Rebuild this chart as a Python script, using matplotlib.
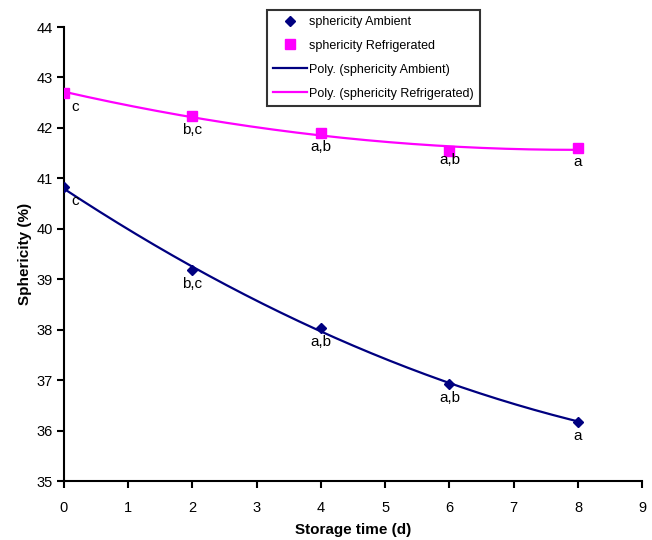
import matplotlib
matplotlib.use('Agg')
import matplotlib.pyplot as plt
import numpy as np

plt.rcParams['font.family'] = ['Liberation Sans', 'DejaVu Sans']

# Data
days = [0, 2, 4, 6, 8]
ambient = [40.82, 39.18, 38.03, 36.93, 36.18]
refrig = [42.70, 42.23, 41.90, 41.55, 41.60]
amb_letters = ['c', 'b,c', 'a,b', 'a,b', 'a']
ref_letters = ['c', 'b,c', 'a,b', 'a,b', 'a']

fig = plt.figure(figsize=(6.52, 5.40), dpi=100)
ax = fig.add_axes([0.098, 0.109, 0.887, 0.841])

# 2nd order polynomial trendlines
xs = np.linspace(0, 8, 200)
p_amb = np.polyfit(days, ambient, 2)
p_ref = np.polyfit(days, refrig, 2)

ax.plot(days, ambient, linestyle='none', marker='D', color='#000080', markersize=5.5,
        label='sphericity Ambient', zorder=3)
ax.plot(days, refrig, linestyle='none', marker='s', color='#FF00FF', markersize=7,
        label='sphericity Refrigerated', zorder=3)
ax.plot(xs, np.polyval(p_amb, xs), color='#000080', linewidth=1.6,
        label='Poly. (sphericity Ambient)')
ax.plot(xs, np.polyval(p_ref, xs), color='#FF00FF', linewidth=1.6,
        label='Poly. (sphericity Refrigerated)')

# significance letters
for i, (x, y) in enumerate(zip(days, ambient)):
    dx = 8 if i == 0 else 0
    ax.annotate(amb_letters[i], (x, y), xytext=(dx, -5), textcoords='offset points',
                ha='center', va='top', fontsize=11)
for i, (x, y) in enumerate(zip(days, refrig)):
    dx = 8 if i == 0 else 0
    dy = -2 if i == 3 else -5
    ax.annotate(ref_letters[i], (x, y), xytext=(dx, dy), textcoords='offset points',
                ha='center', va='top', fontsize=11)

ax.set_xlim(0, 9)
ax.set_ylim(35, 44)
ax.set_xticks(range(0, 10))
ax.set_yticks(range(35, 45))
ax.spines['top'].set_visible(False)
ax.spines['right'].set_visible(False)
ax.spines['left'].set_linewidth(1.5)
ax.spines['bottom'].set_linewidth(1.5)
ax.tick_params(direction='out', length=5, width=1.5, labelsize=10.5)
ax.tick_params(axis='x', pad=9)
ax.tick_params(axis='y', pad=3)
ax.set_xlabel('Storage time (d)', fontsize=11, fontweight='bold', labelpad=6)
ax.set_ylabel('Sphericity (%)', fontsize=11, fontweight='bold', labelpad=3)

leg = ax.legend(loc='upper left', bbox_to_anchor=(0.34, 1.052), fontsize=9,
                frameon=True, fancybox=False, edgecolor='black', handlelength=2.7,
                handletextpad=0.2, borderpad=0.5, labelspacing=0.95)
leg.get_frame().set_linewidth(1.5)

fig.savefig('out.png', dpi=100)
